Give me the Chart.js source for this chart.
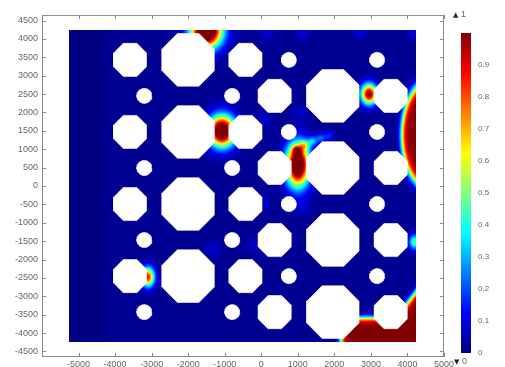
<!DOCTYPE html>
<html>
<head>
<meta charset="utf-8">
<script src="https://cdn.jsdelivr.net/npm/chart.js@4.4.1/dist/chart.umd.min.js"></script>
<style>
  html, body { margin: 0; padding: 0; background: #ffffff; }
  #wrap { width: 505px; height: 367px; position: relative; }
</style>
</head>
<body>
<div id="wrap"><canvas id="c" width="505" height="367"></canvas></div>
<script>
// ---- axis ticks -------------------------------------------------------
const X_TICKS = [-5000, -4000, -3000, -2000, -1000, 0, 1000, 2000, 3000, 4000, 5000];
const Y_TICKS = [-4500, -4000, -3500, -3000, -2500, -2000, -1500, -1000, -500, 0,
                 500, 1000, 1500, 2000, 2500, 3000, 3500, 4000, 4500];
const CB_TICKS = [0, 0.1, 0.2, 0.3, 0.4, 0.5, 0.6, 0.7, 0.8, 0.9];
const CB_MIN = 0, CB_MAX = 1;

// ---- geometry of the perforated plate ---------------------------------
const DOMAIN_X = [-5250, 4230];
const DOMAIN_Y = [-4230, 4230];
const STRIP_EDGE = -4270;          // left absorbing strip ends here

const LARGE_X = [-2000, -2000, -2000, -2000, 1960, 1960, 1960, 1960];
const LARGE_Y = [3430, 1470, -490, -2450, 2450, 490, -1470, -3430];
const LARGE_APOTHEM = 715;

const SMALL_X = [-3590, -3590, -3590, -3590, -430, -430, -430, -430,
                 370, 370, 370, 370, 3545, 3545, 3545, 3545];
const SMALL_Y = [3430, 1470, -490, -2450, 3430, 1470, -490, -2450,
                 2450, 490, -1470, -3430, 2450, 490, -1470, -3430];
const SMALL_APOTHEM = 450;

const TINY_X = [-3200, -3200, -3200, -3200, -795, -795, -795, -795,
                755, 755, 755, 755, 3170, 3170, 3170, 3170];
const TINY_Y = [2450, 490, -1470, -3430, 2450, 490, -1470, -3430,
                3430, 1470, -490, -2450, 3430, 1470, -490, -2450];
const TINY_RADIUS = 205;

// ---- field: background levels, local peaks and saturated zones ---------
const BASE_LEVEL = 0.018;
const STRIP_LEVEL = 0.004;

const SPOT_X    = [-1500, -1075, 2950, -3100, 1000,  975, 1190, 1410, 1630, 1850,
                   156, 1141, 2700, 4178,   47, 1059, -1321, -227,   47, 1141, 4200];
const SPOT_Y    = [4230, 1495, 2500, -2474,  570,  979, 1110, 1220, 1300, 1360,
                   4160, 4160, 4160, 4160, 1794, 1985, -1740, -1604, -435, -571, -1523];
const SPOT_PEAK = [1.4, 1.25, 1.0, 0.85, 1.25, 0.38, 0.32, 0.26, 0.2, 0.14,
                   0.07, 0.07, 0.08, 0.07, 0.06, 0.05, 0.06, 0.05, 0.06, 0.05, 0.45];
const SPOT_SX   = [290, 250, 150, 120, 220, 90, 90, 90, 90, 90,
                   120, 120, 120, 120, 150, 150, 150, 150, 150, 150, 110];
const SPOT_SY   = [320, 290, 190, 180, 400, 90, 90, 90, 90, 90,
                   120, 120, 120, 120, 150, 150, 150, 150, 150, 150, 140];

const CRESCENT_CENTER = [4616, 1390];
const CRESCENT_RADII = [770, 1468];
const CORNER_TOP = -3589;           // saturated pocket below this level...
const CORNER_LEFT = 2180;           // ...and right of this abscissa
const CORNER_EDGE_POINT = [3959, -3235];
const CORNER_EDGE_SLOPE = 1.292;
const ZONE_LEVEL = 1.0;
const ZONE_SOFTNESS = 50;

function jet(v) {
  const f = t => Math.max(0, Math.min(1, t));
  return [f(1.5 - Math.abs(4 * v - 3)), f(1.5 - Math.abs(4 * v - 2)), f(1.5 - Math.abs(4 * v - 1))]
    .map(c => Math.round(c * 255));
}

function fieldAt(x, y) {
  let v = x < STRIP_EDGE ? STRIP_LEVEL : BASE_LEVEL;
  for (let k = 0; k < SPOT_X.length; k++) {
    const dx = (x - SPOT_X[k]) / SPOT_SX[k];
    const dy = (y - SPOT_Y[k]) / SPOT_SY[k];
    const q = dx * dx + dy * dy;
    if (q < 40) v += SPOT_PEAK[k] * Math.exp(-0.5 * q);
  }
  // crescent along the right boundary
  const ex = (x - CRESCENT_CENTER[0]) / CRESCENT_RADII[0];
  const ey = (y - CRESCENT_CENTER[1]) / CRESCENT_RADII[1];
  const dc = (1 - Math.sqrt(ex * ex + ey * ey)) * CRESCENT_RADII[0];
  // pocket in the lower right corner
  const dA = Math.min(CORNER_TOP - y, x - CORNER_LEFT);
  const dB = (CORNER_EDGE_POINT[1] + CORNER_EDGE_SLOPE * (x - CORNER_EDGE_POINT[0]) - y) /
             Math.sqrt(1 + CORNER_EDGE_SLOPE * CORNER_EDGE_SLOPE);
  const d = Math.max(dc, dA, dB);
  v = Math.max(v, ZONE_LEVEL / (1 + Math.exp(-d / ZONE_SOFTNESS)));
  return Math.max(0, Math.min(1, v));
}

function polygon(cx, cy, radius, sides, phase) {
  const pts = [];
  for (let k = 0; k <= sides; k++) {
    const a = phase + (2 * Math.PI * k) / sides;
    pts.push({ x: cx + radius * Math.cos(a), y: cy + radius * Math.sin(a) });
  }
  return pts;
}

const OCT_PHASE = Math.PI / 8;
const octR = a => a / Math.cos(Math.PI / 8);
const holeSets = [];
LARGE_X.forEach((cx, i) => holeSets.push(polygon(cx, LARGE_Y[i], octR(LARGE_APOTHEM), 8, OCT_PHASE)));
SMALL_X.forEach((cx, i) => holeSets.push(polygon(cx, SMALL_Y[i], octR(SMALL_APOTHEM), 8, OCT_PHASE)));
TINY_X.forEach((cx, i) => holeSets.push(polygon(cx, TINY_Y[i], TINY_RADIUS, 40, 0)));

const datasets = holeSets.map(pts => ({
  data: pts,
  showLine: true,
  fill: 'shape',
  backgroundColor: '#ffffff',
  borderColor: '#ffffff',
  borderWidth: 0.6,
  pointRadius: 0,
  tension: 0
}));

const TEXT = '#666666';
const FRAME = '#8c8c8c';

// colour surface painted under the holes
const fieldPlugin = {
  id: 'field',
  beforeDatasetsDraw(chart) {
    const { ctx } = chart;
    const sx = chart.scales.x, sy = chart.scales.y;
    const x0 = Math.round(sx.getPixelForValue(DOMAIN_X[0]));
    const x1 = Math.round(sx.getPixelForValue(DOMAIN_X[1]));
    const y0 = Math.round(sy.getPixelForValue(DOMAIN_Y[1]));
    const y1 = Math.round(sy.getPixelForValue(DOMAIN_Y[0]));
    const w = x1 - x0, h = y1 - y0;
    const off = document.createElement('canvas');
    off.width = w; off.height = h;
    const octx = off.getContext('2d');
    const img = octx.createImageData(w, h);
    for (let j = 0; j < h; j++) {
      const vy = sy.getValueForPixel(y0 + j + 0.5);
      for (let i = 0; i < w; i++) {
        const vx = sx.getValueForPixel(x0 + i + 0.5);
        const c = jet(fieldAt(vx, vy));
        const p = (j * w + i) * 4;
        img.data[p] = c[0]; img.data[p + 1] = c[1]; img.data[p + 2] = c[2]; img.data[p + 3] = 255;
      }
    }
    octx.putImageData(img, 0, 0);
    ctx.save();
    ctx.filter = 'blur(0.5px)';
    ctx.drawImage(off, x0, y0);
    ctx.restore();
  },
  afterDraw(chart) {
    const { ctx, chartArea: a } = chart;
    const sx = chart.scales.x, sy = chart.scales.y;
    ctx.save();
    ctx.strokeStyle = FRAME;
    ctx.lineWidth = 1;
    ctx.strokeRect(a.left + 0.5, a.top + 0.5, a.right - a.left - 1, a.bottom - a.top - 1);
    ctx.beginPath();
    X_TICKS.forEach(v => {
      const p = Math.round(sx.getPixelForValue(v)) + 0.5;
      ctx.moveTo(p, a.top); ctx.lineTo(p, a.top + 4);
      ctx.moveTo(p, a.bottom); ctx.lineTo(p, a.bottom - 4);
    });
    Y_TICKS.forEach(v => {
      const p = Math.round(sy.getPixelForValue(v)) + 0.5;
      ctx.moveTo(a.left, p); ctx.lineTo(a.left + 4, p);
      ctx.moveTo(a.right, p); ctx.lineTo(a.right - 4, p);
    });
    ctx.stroke();

    // colour legend
    const cbL = a.right + 17, cbW = 10, cbT = 33, cbB = 353;
    for (let yy = cbT; yy < cbB; yy++) {
      const v = CB_MAX - ((yy + 0.5 - cbT) / (cbB - cbT)) * (CB_MAX - CB_MIN);
      const c = jet(v);
      ctx.fillStyle = `rgb(${c[0]},${c[1]},${c[2]})`;
      ctx.fillRect(cbL, yy, cbW, 1);
    }
    ctx.fillStyle = TEXT;
    ctx.font = '8px "Liberation Sans", Arial, sans-serif';
    ctx.textAlign = 'left';
    ctx.textBaseline = 'middle';
    CB_TICKS.forEach(v => {
      const yy = cbB - ((v - CB_MIN) / (CB_MAX - CB_MIN)) * (cbB - cbT);
      ctx.fillText(String(v), cbL + 17, yy);
    });
    ctx.font = '7px "DejaVu Sans", sans-serif';
    ctx.fillStyle = '#222222';
    ctx.fillText('\u25B2', cbL - 8, 15);
    ctx.fillText('\u25BC', cbL - 7, 362);
    ctx.fillStyle = TEXT;
    ctx.font = '9px "Liberation Sans", Arial, sans-serif';
    ctx.fillText(String(CB_MAX), cbL, 15);
    ctx.fillText(String(CB_MIN), cbL + 1, 362);
    ctx.restore();
  }
};

const tickFont = { family: '"Liberation Sans", Arial, sans-serif', size: 9 };

new Chart(document.getElementById('c'), {
  type: 'line',
  data: { datasets },
  options: {
    responsive: false,
    devicePixelRatio: 1,
    animation: false,
    events: [],
    layout: { padding: { left: 0, right: 61, top: 15, bottom: 0 } },
    plugins: { legend: { display: false }, tooltip: { enabled: false } },
    scales: {
      x: {
        type: 'linear',
        min: -6000, max: 5000,
        afterBuildTicks: s => { s.ticks = X_TICKS.map(v => ({ value: v })); },
        afterFit: s => { s.height = 10; },
        grid: { display: false, drawTicks: false },
        border: { display: false },
        ticks: { color: TEXT, font: tickFont, padding: 2, maxRotation: 0, autoSkip: false,
                 callback: v => String(v) }
      },
      y: {
        type: 'linear',
        min: -4650, max: 4650,
        afterBuildTicks: s => { s.ticks = Y_TICKS.map(v => ({ value: v })); },
        afterFit: s => { s.width = 42; },
        grid: { display: false, drawTicks: false },
        border: { display: false },
        ticks: { color: TEXT, font: tickFont, padding: 4, autoSkip: false,
                 callback: v => String(v) }
      }
    }
  },
  plugins: [fieldPlugin]
});
</script>
</body>
</html>
